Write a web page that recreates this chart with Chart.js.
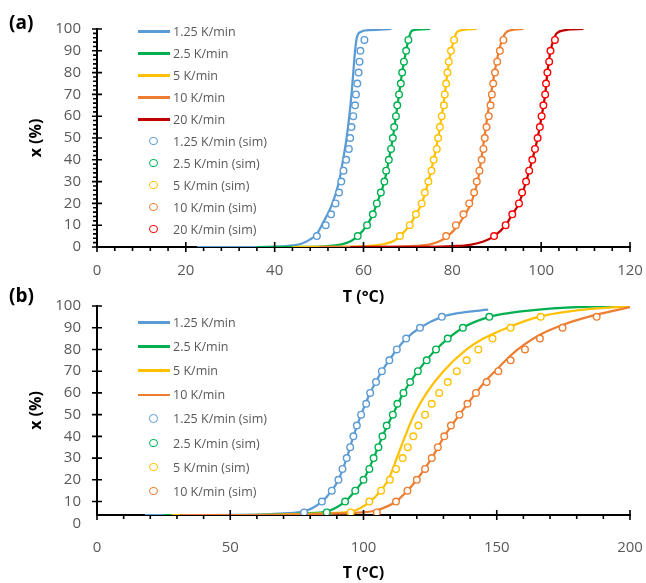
<!DOCTYPE html>
<html>
<head>
<meta charset="utf-8">
<script src="https://cdn.jsdelivr.net/npm/chart.js@4.4.0/dist/chart.umd.min.js"></script>
<style>
  body { margin: 0; background: #fff; }
  #wrap { position: relative; width: 646px; height: 583px; font-family: "Open Sans", sans-serif; }
  .box { position: absolute; left: 0; width: 646px; }
  .tag { position: absolute; left: 9px; font-weight: bold; font-size: 19px; color: #000; line-height: 1; }
  .legend { position: absolute; left: 0; top: 0; font-size: 12.5px; color: #595959; }
  .row { position: absolute; left: 138px; height: 16px; display: flex; align-items: center; white-space: nowrap; }
  .smp { position: relative; width: 32px; height: 16px; margin-right: 3px; }
</style>
</head>
<body>
<div id="wrap">
  <div class="box" id="boxA" style="top:0;height:310px"><canvas id="chartA"></canvas></div>
  <div class="box" id="boxB" style="top:283px;height:300px"><canvas id="chartB"></canvas></div>
  <div class="tag" style="top:13px">(a)</div>
  <div class="tag" style="top:286px">(b)</div>
  <div class="legend" id="legA"></div>
  <div class="legend" id="legB"></div>
</div>
<script>
// conversion x (%) of the simulated points
const simX = [5, 10, 15, 20, 25, 30, 35, 40, 45, 50, 55, 60, 65, 70, 75, 80, 85, 90, 95];

// (a) measured curves
const a125T = [22.5, 38, 42, 44, 46, 48, 49.5, 50.6, 53, 54.5, 55.4, 56.2, 56.8, 57.3, 57.7, 58.1, 58.5, 59.2, 61.5, 66.3];
const a125X = [0, 0, 0.3, 0.7, 1.5, 3.5, 6, 10, 20, 30, 40, 50, 60, 70, 80, 90, 96, 98.5, 99.5, 100];
const a25T = [36, 48, 52, 55, 57, 58.7, 60.8, 62.1, 63.0, 64.7, 65.7, 66.6, 67.3, 68.0, 68.7, 69.6, 70.1, 70.8, 72, 75];
const a25X = [0, 0.1, 0.4, 1.2, 2.5, 5, 10, 15, 20, 30, 40, 50, 60, 70, 80, 90, 95, 99, 99.7, 100];
const a5T = [44, 56, 62, 65, 67, 68.2, 70.4, 71.8, 73.1, 74.6, 75.8, 76.8, 77.6, 78.3, 78.9, 79.7, 80.4, 81.0, 82.5, 85.5];
const a5X = [0, 0.1, 0.6, 1.5, 3, 5, 10, 15, 20, 30, 40, 50, 60, 70, 80, 90, 95, 98.5, 99.6, 100];
const a10T = [50, 66, 72, 75, 77, 79, 81.3, 82.9, 84.2, 85.7, 86.5, 87.2, 87.9, 88.7, 89.5, 90.5, 91.2, 91.9, 93, 96];
const a10X = [0, 0.1, 0.5, 1.2, 2.5, 5, 10, 15, 20, 30, 40, 50, 60, 70, 80, 90, 95, 98, 99.4, 100];
const a20T = [57, 75, 80, 84, 87, 89.4, 92.0, 93.5, 95.0, 96.6, 98.0, 99.2, 100.1, 100.9, 101.4, 102.1, 102.8, 103.5, 105.5, 109.5];
const a20X = [0, 0.1, 0.4, 1, 2.5, 5, 10, 15, 20, 30, 40, 50, 60, 70, 80, 90, 95, 98, 99.5, 100];

// (a) simulated points, temperature at each simX
const a125SimT = [49.5, 51.5, 52.7, 53.7, 54.5, 55.0, 55.5, 56.1, 56.7, 57.0, 57.3, 57.7, 58.1, 58.3, 58.6, 58.9, 59.1, 59.3, 60.2];
const a25SimT = [58.7, 60.8, 62.1, 63.0, 63.9, 64.7, 65.1, 65.7, 66.2, 66.6, 66.9, 67.3, 67.6, 68.0, 68.4, 68.7, 69.1, 69.6, 70.1];
const a5SimT = [68.2, 70.4, 71.8, 73.1, 73.8, 74.6, 75.3, 75.8, 76.5, 76.8, 77.2, 77.6, 78.1, 78.3, 78.6, 78.9, 79.2, 79.7, 80.4];
const a10SimT = [78.6, 80.8, 82.5, 83.8, 84.9, 85.5, 86.1, 86.6, 87.0, 87.3, 87.7, 88.2, 88.6, 88.9, 89.2, 89.6, 90.1, 90.7, 91.5];
const a20SimT = [89.4, 92.0, 93.5, 95.0, 95.7, 96.6, 97.3, 98.0, 98.6, 99.2, 99.7, 100.1, 100.5, 100.9, 101.1, 101.4, 101.8, 102.1, 103.1];

// (b) measured curves (flat part sits on the x axis, which crosses at 3.8)
const b125T = [18, 40, 55, 62, 70, 77.7, 84.4, 88.1, 90.6, 93.7, 96.2, 99.1, 102.5, 106.9, 112.5, 116, 121.2, 129.4, 137, 146.8];
const b125X = [3.8, 3.8, 3.85, 4.0, 4.6, 5.5, 10, 15, 20, 30, 40, 50, 60, 70, 80, 85, 90, 95, 97, 98.3];
const b25T = [25, 45, 60, 70, 78, 86.2, 93.1, 96.9, 100.0, 103.8, 107.1, 111.0, 115.0, 120.4, 127.2, 137.3, 147.2, 155, 170, 185, 200];
const b25X = [3.8, 3.8, 3.9, 4.2, 4.6, 5.5, 10, 15, 20, 30, 40, 50, 60, 70, 80, 90, 95, 96.8, 98.8, 99.7, 100];
const b5T = [28, 50, 65, 75, 85, 95.6, 102.5, 106.5, 109.3, 111, 112.5, 115.6, 119.0, 123.7, 130.0, 138.7, 145, 154, 165.5, 180, 200];
const b5X = [3.8, 3.8, 3.9, 4.2, 4.6, 5.5, 10, 15, 20, 25, 30, 40, 50, 60, 70, 80, 85, 90, 95, 98, 100];
const b10T = [31, 55, 70, 80, 90, 98, 105, 112.2, 116.5, 120, 125.6, 130.3, 136, 142.2, 146.2, 150.6, 155, 160, 166.2, 174.9, 187.4, 200];
const b10X = [3.8, 3.8, 3.9, 4.1, 4.5, 4.9, 6, 10, 15, 20, 30, 40, 50, 60, 66, 71.5, 77, 82, 86.8, 91.4, 96, 99.5];

// (b) simulated points
const b125SimT = [77.7, 84.4, 88.1, 90.6, 92.1, 93.7, 95.0, 96.2, 97.5, 99.1, 101.0, 102.5, 104.7, 106.9, 109.7, 112.5, 116.0, 121.2, 129.4];
const b25SimT = [86.2, 93.1, 96.9, 100.0, 102.2, 103.8, 105.6, 107.1, 108.7, 111.0, 112.7, 115.0, 117.5, 120.4, 123.7, 127.2, 131.6, 137.3, 147.2];
const b5SimT = [95.2, 102.2, 106.6, 109.9, 112.2, 114.7, 116.6, 118.7, 120.6, 123.1, 125.6, 128.4, 131.6, 135.0, 138.7, 143.1, 148.4, 155.2, 166.5];
const b10SimT = [105.0, 112.2, 116.5, 120.0, 123.1, 125.6, 127.9, 130.3, 132.8, 136.0, 139.0, 142.2, 146.2, 150.6, 155.2, 160.6, 166.2, 174.7, 187.5];

const yTicks = [0, 10, 20, 30, 40, 50, 60, 70, 80, 90, 100];

const fam = '"Open Sans", sans-serif';
const lineColors = ['#5B9BD5', '#00B050', '#FFC000', '#ED7D31', '#C00000'];
const simColors = ['#5B9BD5', '#00B050', '#FFC000', '#ED7D31', '#FF0000'];

function pts(t, x) {
  return t.map((v, i) => ({ x: v, y: x[i] }));
}

function lineSet(label, t, x, i) {
  return {
    label: label, kind: 'line', data: pts(t, x), showLine: true,
    borderColor: lineColors[i], backgroundColor: lineColors[i], borderWidth: 2.25,
    pointRadius: 0, pointHoverRadius: 0, cubicInterpolationMode: 'monotone', order: 20 - i
  };
}

function simSet(label, t, i) {
  return {
    label: label, kind: 'sim', data: pts(t, simX), showLine: false,
    borderColor: simColors[i], backgroundColor: '#fff', pointRadius: 3.3,
    pointBorderWidth: 1.4, pointHoverRadius: 3.3, order: 10 - i
  };
}

// major ticks cross the axis, minor ticks sit outside
const axisTicks = {
  id: 'axisTicks',
  afterDraw(chart, args, o) {
    const { ctx, chartArea: ca, scales: { x, y } } = chart;
    ctx.save();
    ctx.strokeStyle = '#000';
    ctx.lineWidth = 1.6;
    ctx.beginPath();
    let n = Math.round((x.max - x.min) / o.xMinor);
    let every = Math.round(o.xMajor / o.xMinor);
    for (let i = 0; i <= n; i++) {
      const p = x.getPixelForValue(x.min + i * o.xMinor);
      const major = i % every === 0;
      ctx.moveTo(p, ca.bottom - (major ? 5 : 0));
      ctx.lineTo(p, ca.bottom + (major ? 5 : 4));
    }
    n = Math.round(100 / o.yMinor);
    every = Math.round(10 / o.yMinor);
    for (let i = 0; i <= n; i++) {
      const v = i * o.yMinor;
      if (v < y.min - 1e-6) continue;
      const p = y.getPixelForValue(v);
      const major = i % every === 0;
      ctx.moveTo(ca.left - (major ? 5 : 4), p);
      ctx.lineTo(ca.left + (major ? 5 : 0), p);
    }
    ctx.stroke();
    ctx.restore();
  }
};

function makeChart(id, datasets, cfg) {
  return new Chart(document.getElementById(id), {
    type: 'scatter',
    data: { datasets: datasets },
    plugins: [axisTicks],
    options: {
      responsive: true,
      maintainAspectRatio: false,
      animation: false,
      events: [],
      layout: { padding: { left: 0, right: 16, top: cfg.top, bottom: 0 } },
      plugins: {
        legend: { display: false },
        tooltip: { enabled: false },
        axisTicks: { xMinor: cfg.xMinor, xMajor: cfg.xStep, yMinor: cfg.yMinor }
      },
      scales: {
        x: {
          type: 'linear', min: 0, max: cfg.xMax,
          afterFit: s => { s.height = cfg.xH; s.paddingLeft = 0; s.paddingRight = 0; },
          grid: { display: false },
          border: { color: '#000', width: 2 },
          ticks: { stepSize: cfg.xStep, color: '#595959', font: { family: fam, size: 15 }, padding: cfg.xPad, maxRotation: 0 },
          title: { display: true, text: 'T (°C)', color: '#000', font: { family: fam, size: 16, weight: 'bold' }, padding: { top: 0, bottom: cfg.xTitlePad } }
        },
        y: {
          type: 'linear', min: cfg.yMin, max: 100,
          afterBuildTicks: s => { s.ticks = yTicks.map(v => ({ value: v })); },
          afterFit: s => { s.width = 97; },
          grid: { display: false },
          border: { color: '#000', width: 2 },
          ticks: { color: '#595959', font: { family: fam, size: 15 }, padding: 8, autoSkip: false },
          title: { display: true, text: 'x (%)', color: '#000', font: { family: fam, size: 16, weight: 'bold' }, padding: { top: 27, bottom: 0 } }
        }
      }
    }
  });
}

function buildLegend(chart, el, y0, dy) {
  chart.data.datasets.forEach((ds, i) => {
    const row = document.createElement('div');
    row.className = 'row';
    row.style.top = (y0 + i * dy - 8) + 'px';
    const smp = document.createElement('span');
    smp.className = 'smp';
    const mark = document.createElement('span');
    mark.style.position = 'absolute';
    if (ds.kind === 'line') {
      mark.style.left = '0px';
      mark.style.top = '7px';
      mark.style.width = '32px';
      mark.style.height = '2.5px';
      mark.style.background = ds.borderColor;
    } else {
      mark.style.left = '11px';
      mark.style.top = '3.5px';
      mark.style.width = '6.6px';
      mark.style.height = '6.6px';
      mark.style.borderRadius = '50%';
      mark.style.border = '1.4px solid ' + ds.borderColor;
      mark.style.background = '#fff';
    }
    smp.appendChild(mark);
    const txt = document.createElement('span');
    txt.textContent = ds.label;
    row.appendChild(smp);
    row.appendChild(txt);
    el.appendChild(row);
  });
}

const chartA = makeChart('chartA', [
  lineSet('1.25 K/min', a125T, a125X, 0),
  lineSet('2.5 K/min', a25T, a25X, 1),
  lineSet('5 K/min', a5T, a5X, 2),
  lineSet('10 K/min', a10T, a10X, 3),
  lineSet('20 K/min', a20T, a20X, 4),
  simSet('1.25 K/min (sim)', a125SimT, 0),
  simSet('2.5 K/min (sim)', a25SimT, 1),
  simSet('5 K/min (sim)', a5SimT, 2),
  simSet('10 K/min (sim)', a10SimT, 3),
  simSet('20 K/min (sim)', a20SimT, 4)
], { top: 29, xMax: 120, xStep: 20, xMinor: 4, yMin: 0, yMinor: 2, xH: 63, xPad: 7, xTitlePad: 3 });

const chartB = makeChart('chartB', [
  lineSet('1.25 K/min', b125T, b125X, 0),
  lineSet('2.5 K/min', b25T, b25X, 1),
  lineSet('5 K/min', b5T, b5X, 2),
  lineSet('10 K/min', b10T, b10X, 3),
  simSet('1.25 K/min (sim)', b125SimT, 0),
  simSet('2.5 K/min (sim)', b25SimT, 1),
  simSet('5 K/min (sim)', b5SimT, 2),
  simSet('10 K/min (sim)', b10SimT, 3)
], { top: 23, xMax: 200, xStep: 50, xMinor: 10, yMin: 3.8, yMinor: 10, xH: 68, xPad: 16, xTitlePad: 0 });

buildLegend(chartA, document.getElementById('legA'), 31, 22);
buildLegend(chartB, document.getElementById('legB'), 322, 24.2);
</script>
</body>
</html>
